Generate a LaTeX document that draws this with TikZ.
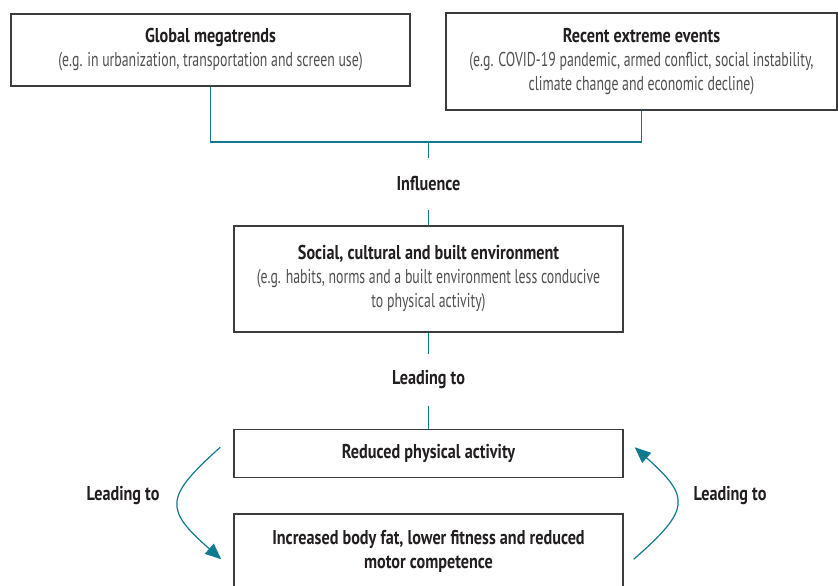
\documentclass[tikz,border=0pt]{standalone}
\usepackage{fontspec}
\setmainfont{PT Sans}[FakeStretch=0.69, BoldFeatures={FakeStretch=0.81}]
\usetikzlibrary{arrows.meta}
\definecolor{linkteal}{RGB}{16,122,142}
\definecolor{titleink}{RGB}{35,31,32}
\definecolor{noteink}{RGB}{80,80,82}
\definecolor{boxline}{RGB}{60,60,60}
\newcommand{\boxtitle}[1]{{\bfseries #1}}
\newcommand{\boxnote}[1]{{\color{noteink}#1}}

\begin{document}
\begin{tikzpicture}[x=0.75pt, y=-0.75pt, font=\fontsize{15}{18}\selectfont, text=titleink, factorbox/.style={draw=boxline, line width=1.1pt, align=center, inner sep=0pt, minimum width=291.75pt}, linktext/.style={font=\fontsize{15}{18}\selectfont\bfseries, inner sep=0pt, minimum height=38pt}, link/.style={draw=linkteal, line width=0.9pt}, cyclearrow/.style={link, -{Triangle[length=12pt, width=10pt]}}]

\useasboundingbox (0,0) rectangle (838,585);

\node[factorbox, minimum width=299.25pt, minimum height=54pt] (megatrends) at (210.5, 50) {\boxtitle{Global megatrends}\\ \boxnote{(e.g. in urbanization, transportation and screen use)}};
\node[factorbox, minimum width=293.25pt, minimum height=72.75pt] (extreme) at (641.5, 61.5) {\boxtitle{Recent extreme events}\\ \boxnote{(e.g. COVID-19 pandemic, armed conflict, social instability,}\\ \boxnote{climate change and economic decline)}};
\coordinate (join) at (428.5, 142);
\node[linktext] (influence) at (428.5, 184) {Influence};
\node[factorbox, minimum height=79.5pt] (environment) at (428.5, 279) {\boxtitle{Social, cultural and built environment}\\ \boxnote{(e.g. habits, norms and a built environment less conducive}\\ \boxnote{to physical activity)}};
\node[linktext] (leading) at (428.5, 380) {Leading to};
\node[factorbox, minimum height=36pt] (reduced) at (428.5, 453.5) {\boxtitle{Reduced physical activity}};
\node[factorbox, minimum height=55.5pt] (increased) at (428.5, 551) {\boxtitle{Increased body fat, lower fitness and reduced}\\ \boxtitle{motor competence}};
\node[linktext] (leadleft) at (123, 496) {Leading to};
\node[linktext] (leadright) at (730, 496) {Leading to};

\draw[link] (megatrends) |- (join) -| (extreme);
\draw[link] (join) -- (influence);
\draw[link] (influence) -- (environment);
\draw[link] (environment) -- (leading);
\draw[link] (leading) -- (reduced);

% the loop between the two lower boxes
\draw[cyclearrow] ([shift={(-13,18.5)}]reduced.north west) .. controls ([shift={(-69,68.5)}]reduced.north west) and ([shift={(-69,-4)}]increased.north west) .. ([shift={(-12,46)}]increased.north west);
\draw[cyclearrow] ([shift={(10,46)}]increased.north east) .. controls ([shift={(67,-4)}]increased.north east) and ([shift={(67,68.5)}]reduced.north east) .. ([shift={(11,18.5)}]reduced.north east);

\end{tikzpicture}
\end{document}
